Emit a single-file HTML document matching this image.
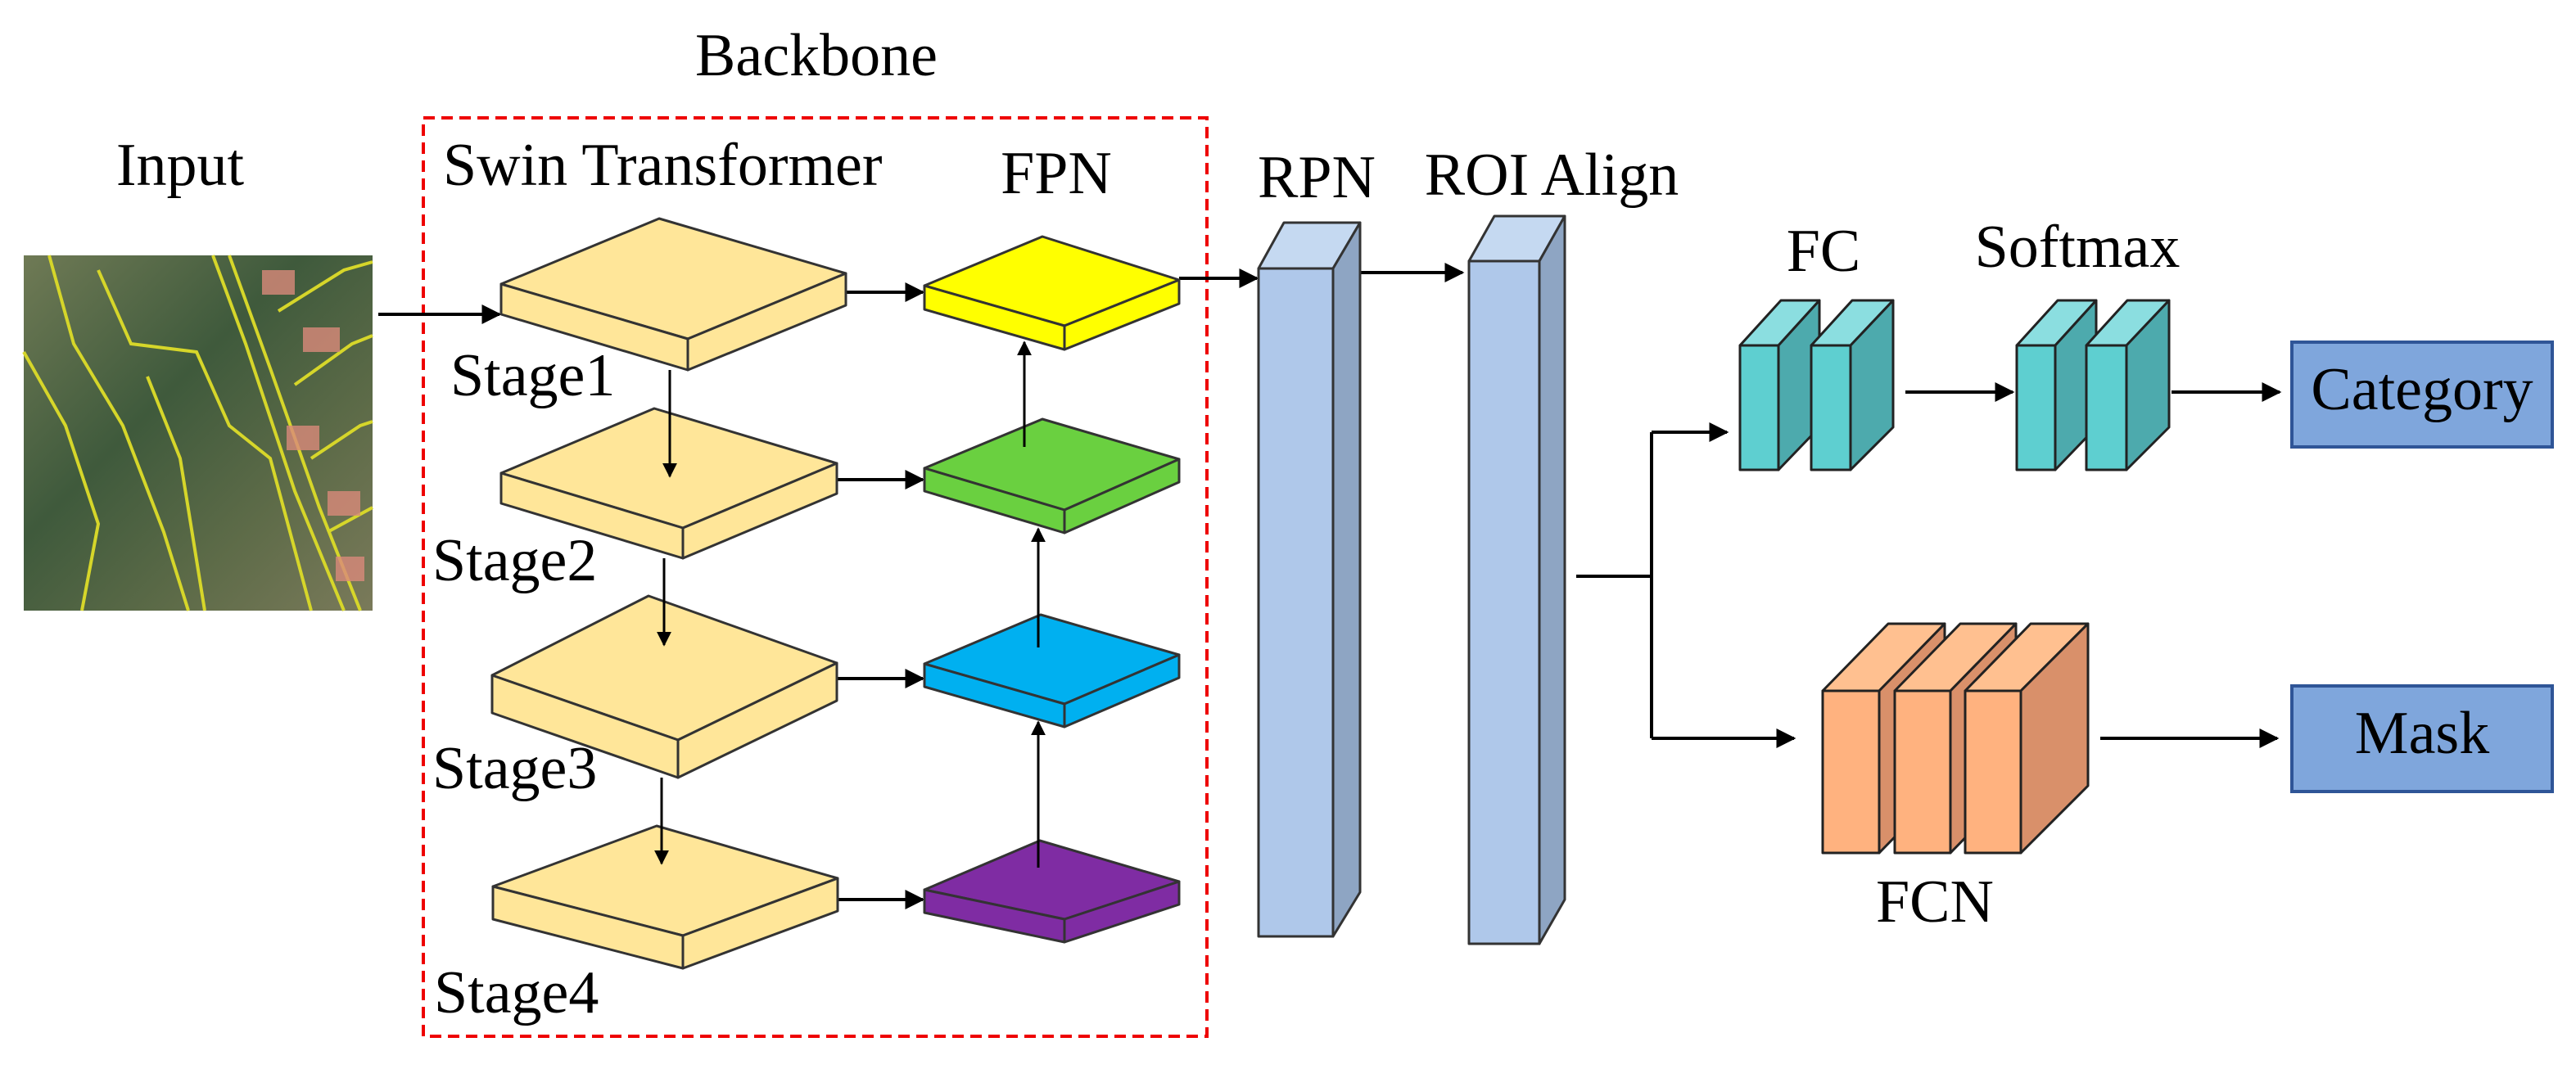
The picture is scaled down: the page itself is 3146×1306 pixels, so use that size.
<!DOCTYPE html>
<html><head><meta charset="utf-8"><style>
html,body{margin:0;padding:0;background:#fff;}
svg{display:block;}
</style></head><body>
<svg width="3146" height="1306" viewBox="0 0 3146 1306" xmlns="http://www.w3.org/2000/svg">
<defs>
<marker id="a" viewBox="0 0 10 10" refX="9" refY="5" markerWidth="6" markerHeight="6" markerUnits="strokeWidth" orient="auto">
<path d="M0,0 L10,5 L0,10 z" fill="#000"/></marker>
<linearGradient id="sat" x1="0" y1="0" x2="1" y2="1">
<stop offset="0" stop-color="#6f7a55"/><stop offset="0.4" stop-color="#3f5a3c"/><stop offset="0.7" stop-color="#5d6b48"/><stop offset="1" stop-color="#7a7a5a"/></linearGradient>
</defs>

<g font-family="'Liberation Serif', 'DejaVu Serif', serif" font-size="74" fill="#000">
<text x="997" y="92" text-anchor="middle">Backbone</text>
<text x="220" y="226" text-anchor="middle">Input</text>
<text x="541" y="226">Swin Transformer</text>
<text x="1290" y="236" text-anchor="middle">FPN</text>
<text x="1608" y="241" text-anchor="middle">RPN</text>
<text x="1895" y="238" text-anchor="middle">ROI Align</text>
<text x="2227" y="331" text-anchor="middle">FC</text>
<text x="2537" y="326" text-anchor="middle">Softmax</text>
<text x="2363" y="1126" text-anchor="middle">FCN</text>
<text x="550" y="483">Stage1</text>
<text x="528" y="709">Stage2</text>
<text x="528" y="963">Stage3</text>
<text x="530" y="1237">Stage4</text>
<text x="2958" y="500" text-anchor="middle">Category</text>
<text x="2958" y="930" text-anchor="middle">Mask</text>
</g>

<rect x="517" y="144" width="957" height="1122" fill="none" stroke="#e00" stroke-width="4" stroke-dasharray="14,8"/>

<rect x="29" y="312" width="426" height="434" fill="url(#sat)"/>
<g fill="none" stroke="#d6d62a" stroke-width="4">
<path d="M60,312 L90,420 L150,520 L200,650 L230,746"/>
<path d="M120,330 L160,420 L240,430 L280,520 L330,560 L380,746"/>
<path d="M260,312 L300,420 L360,600 L420,746"/>
<path d="M280,312 L330,450 L390,620 L440,746"/>
<path d="M29,430 L80,520 L120,640 L100,746"/>
<path d="M180,460 L220,560 L250,746"/>
<path d="M340,380 L420,330 L455,320"/>
<path d="M360,470 L430,420 L455,410"/>
<path d="M380,560 L440,520 L455,515"/>
<path d="M400,650 L455,620"/>
</g>
<g fill="#d98a7a" opacity="0.8">
<rect x="320" y="330" width="40" height="30"/><rect x="370" y="400" width="45" height="30"/>
<rect x="350" y="520" width="40" height="30"/><rect x="400" y="600" width="40" height="30"/>
<rect x="410" y="680" width="35" height="30"/>
</g>

<g stroke="#000" stroke-width="4" fill="none">
<line x1="462" y1="384" x2="610" y2="384" marker-end="url(#a)"/>
<line x1="1033" y1="357" x2="1127" y2="357" marker-end="url(#a)"/>
<line x1="1022" y1="586" x2="1127" y2="586" marker-end="url(#a)"/>
<line x1="1022" y1="829" x2="1127" y2="829" marker-end="url(#a)"/>
<line x1="1023" y1="1099" x2="1127" y2="1099" marker-end="url(#a)"/>
<line x1="1440" y1="340" x2="1535" y2="340" marker-end="url(#a)"/>
<line x1="1661" y1="333" x2="1786" y2="333" marker-end="url(#a)"/>
</g>

<g stroke="#333" stroke-width="3" stroke-linejoin="round" fill="#FFE699">
<polygon points="612,347 805,267 1033,334 840,414"/>
<polygon points="612,347 840,414 840,452 612,384"/>
<polygon points="840,414 1033,334 1033,373 840,452"/>

<polygon points="612,578 799,499 1022,566 834,645"/>
<polygon points="612,578 834,645 834,682 612,615"/>
<polygon points="834,645 1022,566 1022,603 834,682"/>

<polygon points="601,825 792,728 1022,810 828,904"/>
<polygon points="601,825 828,904 828,950 601,871"/>
<polygon points="828,904 1022,810 1022,856 828,950"/>

<polygon points="602,1083 802,1009 1023,1073 834,1143"/>
<polygon points="602,1083 834,1143 834,1183 602,1123"/>
<polygon points="834,1143 1023,1073 1023,1113 834,1183"/>
</g>

<g stroke="#333" stroke-width="3" stroke-linejoin="round">
<g fill="#FFFF00">
<polygon points="1129,349 1273,289 1440,342 1300,398"/>
<polygon points="1129,349 1300,398 1300,427 1129,378"/>
<polygon points="1300,398 1440,342 1440,371 1300,427"/>
</g>
<g fill="#6AD040">
<polygon points="1129,572 1273,512 1440,561 1300,623"/>
<polygon points="1129,572 1300,623 1300,651 1129,600"/>
<polygon points="1300,623 1440,561 1440,589 1300,651"/>
</g>
<g fill="#00B0F0">
<polygon points="1129,811 1271,751 1440,800 1300,860"/>
<polygon points="1129,811 1300,860 1300,888 1129,839"/>
<polygon points="1300,860 1440,800 1440,828 1300,888"/>
</g>
<g fill="#7F2CA3">
<polygon points="1129,1087 1270,1027 1440,1077 1300,1123"/>
<polygon points="1129,1087 1300,1123 1300,1151 1129,1115"/>
<polygon points="1300,1123 1440,1077 1440,1105 1300,1151"/>
</g>
</g>

<g stroke="#000" stroke-width="3" fill="none">
<line x1="818" y1="452" x2="818" y2="582" marker-end="url(#a)"/>
<line x1="811" y1="682" x2="811" y2="788" marker-end="url(#a)"/>
<line x1="808" y1="950" x2="808" y2="1055" marker-end="url(#a)"/>
<line x1="1251" y1="546" x2="1251" y2="418" marker-end="url(#a)"/>
<line x1="1268" y1="791" x2="1268" y2="646" marker-end="url(#a)"/>
<line x1="1268" y1="1060" x2="1268" y2="882" marker-end="url(#a)"/>
</g>

<g stroke="#333" stroke-width="3" stroke-linejoin="round">
<polygon points="1537,328 1568,272 1661,272 1628,328" fill="#C5D9F1"/>
<polygon points="1628,328 1661,272 1661,1090 1628,1144" fill="#8EA5C3"/>
<rect x="1537" y="328" width="91" height="816" fill="#AFC8EA"/>
<polygon points="1794,319 1825,264 1911,264 1880,319" fill="#C5D9F1"/>
<polygon points="1880,319 1911,264 1911,1099 1880,1153" fill="#8EA5C3"/>
<rect x="1794" y="319" width="86" height="834" fill="#AFC8EA"/>
</g>

<g stroke="#000" stroke-width="4" fill="none">
<polyline points="1925,704 2017,704"/>
<polyline points="2017,528 2017,902"/>
<line x1="2017" y1="528" x2="2109" y2="528" marker-end="url(#a)"/>
<line x1="2017" y1="902" x2="2191" y2="902" marker-end="url(#a)"/>
<line x1="2327" y1="479" x2="2458" y2="479" marker-end="url(#a)"/>
<line x1="2652" y1="479" x2="2784" y2="479" marker-end="url(#a)"/>
<line x1="2565" y1="902" x2="2781" y2="902" marker-end="url(#a)"/>
</g>

<g stroke="#222" stroke-width="3" stroke-linejoin="round">
<polygon points="2125,422 2175,367 2222,367 2172,422" fill="#8BDEE0"/>
<polygon points="2172,422 2222,367 2222,522 2172,574" fill="#4DAAAD"/>
<rect x="2125" y="422" width="47" height="152" fill="#5ECFD0"/>
<polygon points="2212,422 2262,367 2312,367 2260,422" fill="#8BDEE0"/>
<polygon points="2260,422 2312,367 2312,522 2260,574" fill="#4DAAAD"/>
<rect x="2212" y="422" width="48" height="152" fill="#5ECFD0"/>

<polygon points="2463,422 2513,367 2560,367 2510,422" fill="#8BDEE0"/>
<polygon points="2510,422 2560,367 2560,522 2510,574" fill="#4DAAAD"/>
<rect x="2463" y="422" width="47" height="152" fill="#5ECFD0"/>
<polygon points="2548,422 2598,367 2649,367 2597,422" fill="#8BDEE0"/>
<polygon points="2597,422 2649,367 2649,522 2597,574" fill="#4DAAAD"/>
<rect x="2548" y="422" width="49" height="152" fill="#5ECFD0"/>
</g>

<g stroke="#222" stroke-width="3" stroke-linejoin="round">
<polygon points="2226,844 2306,762 2375,762 2295,844" fill="#FFC090"/>
<polygon points="2295,844 2375,762 2375,960 2295,1042" fill="#D9906A"/>
<rect x="2226" y="844" width="69" height="198" fill="#FFB27F"/>
<polygon points="2314,844 2394,762 2462,762 2382,844" fill="#FFC090"/>
<polygon points="2382,844 2462,762 2462,960 2382,1042" fill="#D9906A"/>
<rect x="2314" y="844" width="68" height="198" fill="#FFB27F"/>
<polygon points="2400,844 2480,762 2550,762 2468,844" fill="#FFC090"/>
<polygon points="2468,844 2550,762 2550,960 2468,1042" fill="#D9906A"/>
<rect x="2400" y="844" width="68" height="198" fill="#FFB27F"/>
</g>

<rect x="2799" y="418" width="318" height="128" fill="#7FA6DC" stroke="#2F5597" stroke-width="4"/>
<rect x="2799" y="838" width="318" height="129" fill="#7FA6DC" stroke="#2F5597" stroke-width="4"/>
<g font-family="'Liberation Serif', 'DejaVu Serif', serif" font-size="74" fill="#000" text-anchor="middle">
<text x="2958" y="500">Category</text>
<text x="2958" y="920">Mask</text>
</g>
</svg>
</body></html>
